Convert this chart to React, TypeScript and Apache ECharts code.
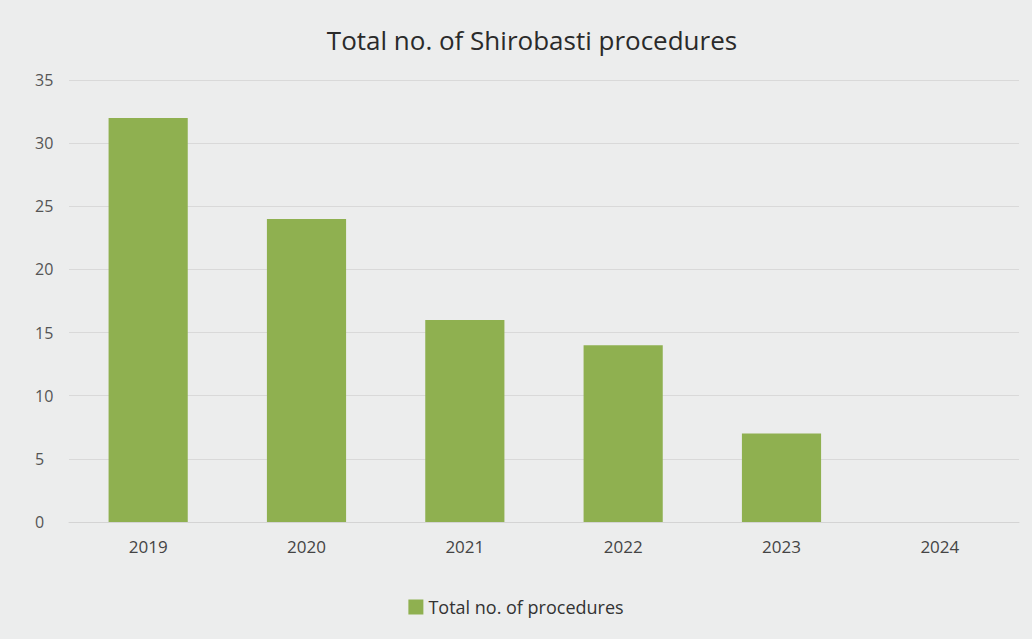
import React, { useEffect, useRef } from "react";
import * as echarts from "echarts";

const titleText = "Total no. of Shirobasti procedures";
const seriesName = "Total no. of procedures";
const years = ["2019", "2020", "2021", "2022", "2023", "2024"];
const procedures = [32, 24, 16, 14, 7, 0];
const yTicks = { min: 0, max: 35, interval: 5 };

export default function App() {
  const ref = useRef<HTMLDivElement>(null);
  useEffect(() => {
    if (!ref.current) return;
    const chart = echarts.init(ref.current, undefined, { renderer: "svg" });
    chart.setOption({
      animation: false,
      backgroundColor: "#eceded",
      textStyle: { fontFamily: "Open Sans" },
      title: {
        text: titleText,
        left: 527,
        textAlign: "center",
        top: 22,
        textStyle: { fontSize: 26, fontWeight: "normal", color: "#2a2a2a", fontFamily: "Open Sans" },
      },
      grid: { left: 69, right: 13, top: 80, bottom: 117 },
      xAxis: {
        type: "category",
        data: years,
        axisLine: { show: true, lineStyle: { color: "#d4d4d4" } },
        axisTick: { show: false },
        axisLabel: { fontSize: 17, color: "#444", margin: 16 },
      },
      yAxis: {
        type: "value",
        min: yTicks.min,
        max: yTicks.max,
        interval: yTicks.interval,
        axisLine: { show: false },
        axisTick: { show: false },
        splitLine: { lineStyle: { color: "#d9d9d9" } },
        axisLabel: { fontSize: 16, color: "#555", margin: 34, align: "left" },
      },
      legend: {
        bottom: 18,
        left: "center",
        itemWidth: 15,
        itemHeight: 15,
        itemGap: 6,
        icon: "rect",
        textStyle: { fontSize: 18, color: "#333", fontFamily: "Open Sans" },
        data: [seriesName],
      },
      series: [
        {
          name: seriesName,
          type: "bar",
          data: procedures,
          barWidth: "50%",
          itemStyle: { color: "#8fb050", borderColor: "#7a9a42", borderWidth: 0 },
        },
      ],
    });
    return () => chart.dispose();
  }, []);
  return (
    <div
      ref={ref}
      style={{ position: "fixed", left: 0, top: 0, width: 1032, height: 639 }}
    />
  );
}
